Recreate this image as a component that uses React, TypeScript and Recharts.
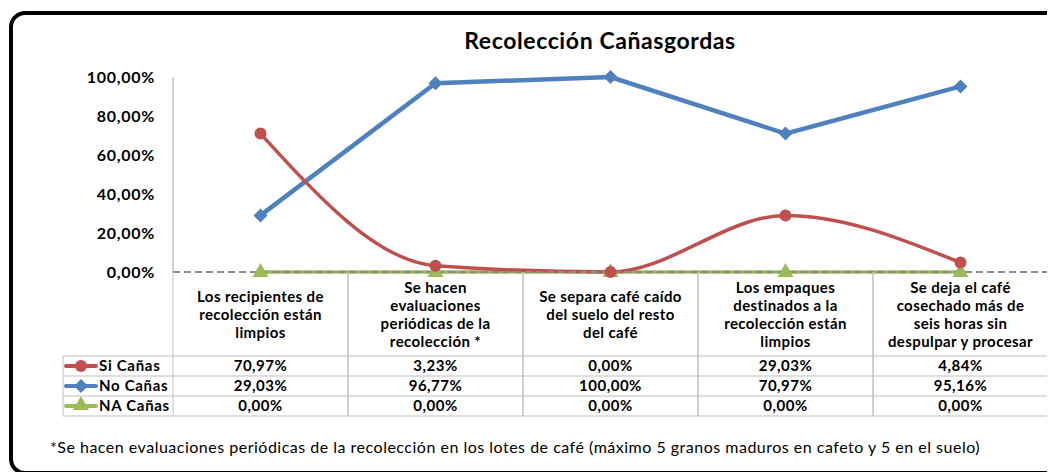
import { Line, LineChart, XAxis, YAxis } from "recharts";

const categoryLines = [
  ["Los recipientes de", "recolección están", "limpios"],
  ["Se hacen", "evaluaciones", "periódicas de la", "recolección *"],
  ["Se separa café caído", "del suelo del resto", "del café"],
  ["Los empaques", "destinados a la", "recolección están", "limpios"],
  ["Se deja el café", "cosechado más de", "seis horas sin", "despulpar y procesar"],
];
const categories = categoryLines.map((l) => l.join(" "));

const siCanas = [70.97, 3.23, 0, 29.03, 4.84];
const noCanas = [29.03, 96.77, 100, 70.97, 95.16];
const naCanas = [0, 0, 0, 0, 0];

const seriesNames = ["Si Cañas", "No Cañas", "NA Cañas"];
const seriesValues = [siCanas, noCanas, naCanas];
const seriesColors = ["#C0504D", "#4F81BD", "#9BBB59"];

const yTicks = [0, 20, 40, 60, 80, 100];

const title = "Recolección Cañasgordas";
const footnote =
  "*Se hacen evaluaciones periódicas de la recolección en los lotes de café (máximo 5 granos maduros en cafeto y 5 en el suelo)";

const data = categories.map((c, i) => ({
  name: c,
  si: siCanas[i],
  no: noCanas[i],
  na: naCanas[i],
}));

const FONT = "Lato, 'Open Sans', sans-serif";
const GRID = "#BFBFBF";
const BAND = 175;
const LABEL_H = 84;
const ROW_H = 20;
const TABLE_LEFT = 63;

const pct = (v: number) => v.toFixed(2).replace(".", ",") + "%";

function Marker({ kind, cx, cy, color }: { kind: number; cx: number; cy: number; color: string }) {
  if (kind === 0) return <circle cx={cx} cy={cy} r={6} fill={color} />;
  if (kind === 1)
    return <polygon points={`${cx},${cy - 7} ${cx + 7},${cy} ${cx},${cy + 7} ${cx - 7},${cy}`} fill={color} />;
  return <polygon points={`${cx},${cy - 9} ${cx + 8},${cy + 5} ${cx - 8},${cy + 5}`} fill={color} />;
}

const dotFor = (kind: number) => (p: any) =>
  p.cx == null ? <g key={p.index} /> : <g key={p.index}><Marker kind={kind} cx={p.cx} cy={p.cy} color={seriesColors[kind]} /></g>;

function CategoryTick(props: any) {
  const { x, y, index } = props;
  const lines = categoryLines[index];
  const left = x - BAND / 2;
  const right = x + BAND / 2;
  const rowsTop = y + LABEL_H;
  const bottom = rowsTop + ROW_H * 3;
  const first = y + LABEL_H / 2 + 1 - ((lines.length - 1) * 18) / 2;
  return (
    <g>
      <line x1={left} x2={left} y1={y} y2={bottom} stroke={GRID} />
      <line x1={right} x2={right} y1={y} y2={bottom} stroke={GRID} />
      {[0, 1, 2, 3].map((r) => (
        <line key={r} x1={left} x2={right} y1={rowsTop + r * ROW_H} y2={rowsTop + r * ROW_H} stroke={GRID} />
      ))}
      {lines.map((t, i) => (
        <text key={i} x={x} y={first + i * 18} dy="0.35em" textAnchor="middle" fontFamily={FONT} fontWeight={700} fontSize={15} letterSpacing={0.4} fill="#000">
          {t}
        </text>
      ))}
      {seriesValues.map((vals, r) => (
        <text key={r} x={x} y={rowsTop + r * ROW_H + ROW_H / 2} dy="0.35em" textAnchor="middle" fontFamily={FONT} fontWeight={700} fontSize={15} letterSpacing={0.5} fill="#000">
          {pct(vals[index])}
        </text>
      ))}
      {index === 0 && (
        <g>
          <line x1={TABLE_LEFT} x2={TABLE_LEFT} y1={rowsTop} y2={bottom} stroke={GRID} />
          {[0, 1, 2, 3].map((r) => (
            <line key={r} x1={TABLE_LEFT} x2={left} y1={rowsTop + r * ROW_H} y2={rowsTop + r * ROW_H} stroke={GRID} />
          ))}
          {seriesNames.map((n, r) => {
            const cy = rowsTop + r * ROW_H + ROW_H / 2;
            return (
              <g key={n}>
                <line x1={TABLE_LEFT + 3} x2={TABLE_LEFT + 33} y1={cy} y2={cy} stroke={seriesColors[r]} strokeWidth={4} strokeLinecap="round" />
                <Marker kind={r} cx={TABLE_LEFT + 18} cy={r === 2 ? cy - 1 : cy} color={seriesColors[r]} />
                <text x={TABLE_LEFT + 36} y={cy} dy="0.35em" fontFamily={FONT} fontWeight={700} fontSize={15} letterSpacing={0.7} fill="#000">
                  {n}
                </text>
              </g>
            );
          })}
        </g>
      )}
    </g>
  );
}

export default function App() {
  return (
    <div style={{ position: "relative", width: 1055, height: 472, margin: "-8px 0 0 -8px", overflow: "hidden", background: "#fff" }}>
      <div
        style={{
          position: "absolute",
          left: 9,
          top: 11,
          width: 1100,
          height: 456,
          border: "4px solid #000",
          borderRadius: 16,
        }}
      />
      <div
        style={{
          position: "absolute",
          left: 0,
          width: 1200,
          top: 26,
          textAlign: "center",
          fontFamily: FONT,
          fontWeight: 700,
          fontSize: 23,
          letterSpacing: 0.6,
          color: "#000",
        }}
      >
        {title}
      </div>
      <div style={{ position: "absolute", left: 0, top: 0 }}>
        <LineChart width={1055} height={472} data={data} margin={{ top: 77, right: 7, bottom: 56, left: 0 }}>
          <YAxis
            domain={[0, 100]}
            ticks={yTicks}
            width={173}
            tickLine={false}
            tickSize={0}
            tickMargin={18}
            axisLine={{ stroke: "#A6A6A6" }}
            tickFormatter={pct}
            tick={{ fontFamily: FONT, fontWeight: 700, fontSize: 16, letterSpacing: 0.7, fill: "#000" }}
          />
          <XAxis
            dataKey="name"
            height={144}
            padding={{ left: BAND / 2, right: BAND / 2 }}
            tickLine={false}
            tickSize={0}
            tickMargin={0}
            interval={0}
            axisLine={{ stroke: "#8C8C8C", strokeWidth: 2, strokeDasharray: "7 4" }}
            tick={<CategoryTick />}
          />
          <Line dataKey="na" type="linear" stroke={seriesColors[2]} strokeWidth={3.5} dot={dotFor(2)} isAnimationActive={false} />
          <Line dataKey="no" type="linear" stroke={seriesColors[1]} strokeWidth={4.5} dot={dotFor(1)} isAnimationActive={false} />
          <Line dataKey="si" type="monotone" stroke={seriesColors[0]} strokeWidth={3.5} dot={dotFor(0)} isAnimationActive={false} />
        </LineChart>
      </div>
      <div style={{ position: "absolute", left: 50, top: 437, fontFamily: FONT, fontSize: 16, letterSpacing: 0.5, color: "#000", whiteSpace: "nowrap" }}>
        {footnote}
      </div>
    </div>
  );
}
